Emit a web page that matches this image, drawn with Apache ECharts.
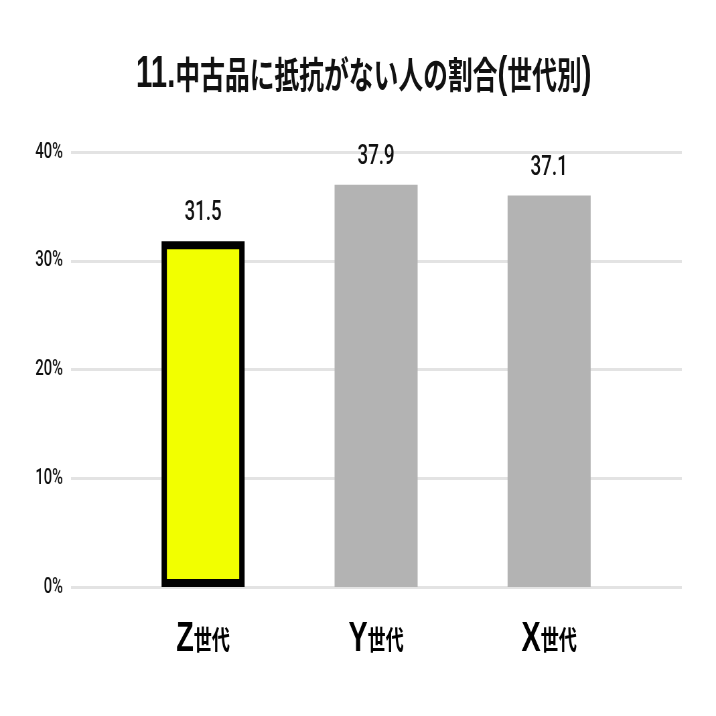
<!DOCTYPE html>
<html>
<head>
<meta charset="utf-8">
<script src="https://cdn.jsdelivr.net/npm/echarts@6/dist/echarts.min.js"></script>
<style>
html,body{margin:0;padding:0;background:#fff;overflow:hidden;width:716px;height:716px;}
#wrap{width:1069px;height:716px;transform:scaleX(0.6698);transform-origin:0 0;}
</style>
</head>
<body>
<div id="wrap"></div>
<script>
// ---- data ----
const titleText = '11.中古品に抵抗がない人の割合(世代別)';
const categories = ['Z世代', 'Y世代', 'X世代'];
const barValues = [31.8, 37.0, 36.0];          // bar heights as drawn
const labelTexts = ['31.5', '37.9', '37.1'];   // value labels as printed
const yMin = 0, yMax = 40, yInterval = 10;
const highlightIndex = 0;

const latin = '"Liberation Sans", Arial, sans-serif';
const num = 'Roboto, "Liberation Sans", sans-serif';
const cjk = '"Noto Sans CJK JP", sans-serif';

const chart = echarts.init(document.getElementById('wrap'));

const seriesData = barValues.map((v, i) => ({
  value: v,
  itemStyle: i === highlightIndex
    ? { color: '#f2ff00', borderColor: '#000', borderWidth: 8 }
    : { color: '#b3b3b3' }
}));

chart.setOption({
  animation: false,
  backgroundColor: '#fff',
  title: {
    left: 198,
    top: 48,
    text: '{a|11.}{b|中古品に抵抗がない人の割合}{a|(}{b|世代別}{a|)}',
    textStyle: {
      rich: {
        a: { fontFamily: latin, fontWeight: 'bold', fontSize: 44, color: '#111' },
        b: { fontFamily: cjk, fontWeight: 'bold', fontSize: 37, color: '#111' }
      }
    }
  },
  grid: [
    { left: 106, right: 51, top: 152, bottom: 129 },
    { left: 174, right: 120, top: 152, bottom: 129 }
  ],
  xAxis: [
    { gridIndex: 0, type: 'value', show: false, min: 0, max: 1 },
    {
      gridIndex: 1, type: 'category', data: categories,
      axisLine: { show: false }, axisTick: { show: false },
      axisLabel: {
        margin: 31,
        formatter: v => '{l|' + v.charAt(0) + '}{c|' + v.slice(1) + '}',
        rich: {
          l: { fontFamily: latin, fontWeight: 'bold', fontSize: 43, color: '#000' },
          c: { fontFamily: cjk, fontWeight: 'bold', fontSize: 27, color: '#000' }
        }
      }
    }
  ],
  yAxis: [
    {
      gridIndex: 0, type: 'value', min: yMin, max: yMax, interval: yInterval,
      axisLine: { show: false }, axisTick: { show: false },
      axisLabel: {
        margin: 12, formatter: '{value}%',
        fontFamily: num, fontSize: 22, color: '#111', fontWeight: 500
      },
      splitLine: { show: true, lineStyle: { color: '#e3e3e3', width: 3 } }
    },
    {
      gridIndex: 1, type: 'value', min: yMin, max: yMax, interval: yInterval,
      show: false, splitLine: { show: false }
    }
  ],
  series: [{
    type: 'bar',
    xAxisIndex: 1, yAxisIndex: 1,
    barWidth: 124,
    data: seriesData,
    label: {
      show: true, position: 'top', distance: 14,
      formatter: p => labelTexts[p.dataIndex],
      fontFamily: num, fontSize: 28, color: '#111', fontWeight: 500
    }
  }]
});
</script>
</body>
</html>
